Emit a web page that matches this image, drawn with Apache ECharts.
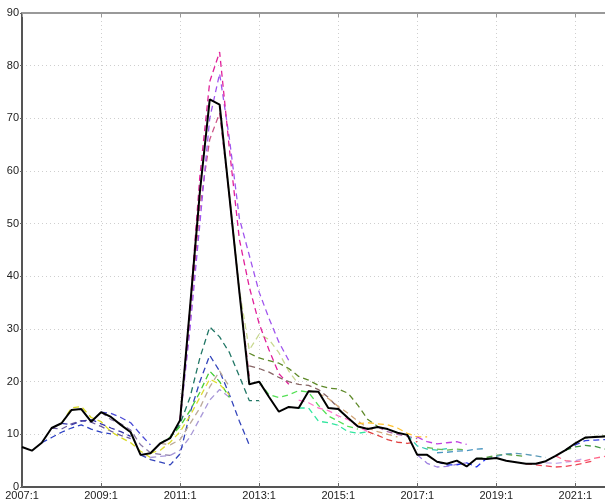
<!DOCTYPE html>
<html>
<head>
<meta charset="utf-8">
<script src="https://cdn.jsdelivr.net/npm/echarts@6/dist/echarts.min.js"></script>
<style>html,body{margin:0;padding:0;background:#fff}#c{width:605px;height:501px}</style>
</head>
<body>
<div id="c"></div>
<script>
// Quarterly categories 2007:1 .. 2021:4
const years = [2007,2008,2009,2010,2011,2012,2013,2014,2015,2016,2017,2018,2019,2020,2021];
const quarters = [];
years.forEach(y => { for (let q = 1; q <= 4; q++) quarters.push(y + ':' + q); });

const yTicks = [0,10,20,30,40,50,60,70,80,90];

// Actual (solid black)
const actual = [7.6, 6.9, 8.4, 11.2, 12.1, 14.6, 14.8, 12.4, 14.2, 13.3,
                11.8, 10.4, 6.1, 6.4, 8.3, 9.3, 12.7, 34, 56, 73.6,
                72.6, 55, 37, 19.5, 20, 17.1, 14.3, 15.2, 15, 18.2,
                18.1, 15, 14.8, 13.1, 11.5, 11, 11.4, 11, 10.3, 9.9,
                6.1, 6.1, 4.8, 4.4, 5, 3.9, 5.4, 5.3, 5.5, 5,
                4.7, 4.4, 4.4, 4.9, 5.9, 7, 8.3, 9.4, 9.5, 9.6];

// Forecast vintages (dashed): values from their start quarter index
const fcA = [8.4, 9.4, 10.4, 11.2, 11.8, 11.0, 10.4, 10.1];            // start 2
const fcB = [11.2, 11.0, 12.0, 12.6, 12.3, 11.5, 10.6, 9.8, 9.2];      // start 3
const fcC = [12.1, 11.8, 12.5, 12.8, 12.0, 11.2, 10.5, 9.6];           // start 4
const fcD = [12.1, 15.0, 15.3, 13.2, 12.4, 10.5, 9.4, 8.4, 6.8, 5.6];  // start 4
const fcE = [14.2, 14.0, 13.2, 12.2, 10.0, 8.0];                       // start 8
const fcF = [14.2, 12.8, 12.0, 10.8, 8.0, 6.5, 6.2, 6.0];              // start 8
const fcG = [6.1, 5.6, 5.8, 6.0, 7.0, 9.5, 13, 16.5, 18.5, 17];        // start 12
const fcH = [6.1, 5.2, 4.7, 4.2, 6.3, 14, 20, 25, 22, 17.5, 12.5, 8];  // start 12
const fcI = [9.3, 12, 17, 24.5, 30.4, 28.5, 25.5, 21, 16.4, 16.4];     // start 15
const fcJ = [8.3, 9.5, 11.5, 14.5, 18, 22, 20, 17];                    // start 14
const fcK = [6.4, 7, 8.5, 10.5, 13.5, 17, 20.5, 19.5, 17.5];           // start 13
const fcL = [8.3, 8.0, 9.0, 12, 15, 19, 22, 19];                       // start 14
const fcM = [12.7, 34, 59, 77, 82.6, 64, 47, 38, 31, 26, 21.5, 19.5];  // start 16 magenta
const fcN = [12.7, 30, 50, 70, 78.5, 66, 51, 44, 37, 32, 27.5, 24];    // start 16 violet
const fcO = [12.7, 32, 53, 66, 71, 55, 37, 21];                        // start 16
const fcP = [72.6, 55.5, 37.5, 26, 29, 28, 25.5, 22, 19.5];            // start 20
const fcQ = [25.4, 24.5, 24, 23.5, 22.5, 21, 20.3, 19.3, 18.8, 18.6, 17.8, 15.5, 12.8, 11.5]; // start 23
const fcR = [23, 22.5, 21.8, 20.8, 20, 19.5, 19.3, 18.5, 17, 15, 13];  // start 23
const fcS = [20, 17.5, 17, 17.5, 18.3, 18, 15.5, 13.5, 12.5, 11.5, 11]; // start 24
const fcT = [15, 15, 12.5, 12.2, 11.7, 10.5, 10.2, 10.5];              // start 28
const fcU = [16.5, 16, 15, 14.5, 13.5, 12.8, 11.5, 10.5];              // start 28
const fcV = [18.3, 17.8, 16.8, 15.3, 14, 12.5, 11.2, 10.5, 10, 9.5];   // start 29
const fcW = [12, 12.2, 12, 11.8, 11.2, 10.2, 9.5, 9.5];                // start 34
const fcX = [10.5, 9.8, 9.0, 8.5, 8.3, 8.6];                           // start 35
const fcY = [11.4, 10.5, 10, 9.6, 9.2];                                // start 36
const fcZ = [9.5, 8.6, 8.2, 8.4, 8.6, 8.1];                            // start 40
const fc27 = [9.9, 7.8, 7.2, 7.0, 7.3];                                // start 39
const fc28 = [7.5, 7.2, 7.0, 7.2, 7.0];                                // start 41
const fc29 = [6.5, 6.6, 6.8, 6.9, 7.2, 7.3];                           // start 42
const fc30 = [6.1, 4.5, 3.8, 3.9, 4.3, 4.6];                           // start 40
const fc31 = [4.8, 4.2, 4.2, 4.6, 3.8, 5.4];                           // start 42
const fc32 = [5.4, 5.6, 6.0, 6.2, 6.0, 5.8];                           // start 46
const fc33 = [5.3, 5.8, 6.3, 6.4, 6.2, 5.9, 5.6];                      // start 47
const fc34 = [4.4, 4.2, 4.0, 3.8, 3.9, 4.2, 4.6, 5.0];                 // start 51
const fc35 = [4.4, 4.6, 4.5, 4.7, 5.0, 5.5];                           // start 52
const fc36 = [5.9, 5.0, 4.8, 5.0, 5.5, 5.8];                           // start 54
const fc37 = [7.0, 8.0, 8.8, 8.9, 9.0];                                // start 55
const fc38 = [7, 7.6, 7.9, 7.7, 7.2];                                  // start 55
const fc39 = [7, 8.3, 9.3, 9.6, 9.7];                                  // start 55

const fcList = [
  [fcA, 2, '#2a3fc4'], [fcB, 3, '#6a5a9e'], [fcC, 4, '#3535a8'], [fcD, 4, '#d8d820'],
  [fcE, 8, '#4a4ad6'], [fcF, 8, '#8a7aa8'], [fcG, 12, '#a898d8'], [fcH, 12, '#3344bb'],
  [fcI, 15, '#227766'], [fcJ, 14, '#44cc33'], [fcK, 13, '#dddd33'], [fcL, 14, '#bbaa99'],
  [fcO, 16, '#cc5588'], [fcP, 20, '#c8d890'], [fcN, 16, '#a055ee'], [fcM, 16, '#e0209a'],
  [fcQ, 23, '#5f8a2a'], [fcR, 23, '#886666'], [fcS, 24, '#55e055'], [fcT, 28, '#33e6a0'],
  [fcU, 28, '#ff77cc'], [fcV, 29, '#d2a679'], [fcW, 34, '#ffc22e'], [fcX, 35, '#e04040'],
  [fcY, 36, '#aa66aa'], [fcZ, 40, '#c040e0'], [fc27, 39, '#30c8b0'], [fc28, 41, '#66bb55'],
  [fc29, 42, '#4a96c0'], [fc30, 40, '#9c7fe0'], [fc31, 42, '#2233ee'], [fc32, 46, '#55a040'],
  [fc33, 47, '#5a9ab8'], [fc34, 51, '#ee4455'], [fc35, 52, '#c0a8ea'], [fc36, 54, '#ff6688'],
  [fc37, 55, '#3340dd'], [fc38, 55, '#449944'], [fc39, 55, '#557733']
];

function padded(vals, start) {
  const out = quarters.map(() => null);
  vals.forEach((v, k) => { if (start + k < out.length) out[start + k] = v; });
  return out;
}

const series = fcList.map(([vals, start, color]) => ({
  type: 'line', xAxisIndex: 0, data: padded(vals, start), showSymbol: false, silent: true,
  lineStyle: { color: color, width: 1.3, type: [6, 4] }, z: 2, animation: false
}));
series.push({
  type: 'line', xAxisIndex: 0, data: actual, showSymbol: false, silent: true,
  lineStyle: { color: '#000', width: 2 }, z: 5, animation: false
});

const chart = echarts.init(document.getElementById('c'), null, { renderer: 'canvas' });
chart.setOption({
  animation: false,
  backgroundColor: '#fff',
  grid: { left: 22, top: 13, width: 584, height: 474, containLabel: false },
  xAxis: [{
    type: 'category', data: quarters, boundaryGap: false, position: 'bottom',
    axisLine: { show: true, lineStyle: { color: '#555', width: 2 } },
    axisTick: { show: true, inside: true, interval: 7, length: 4, lineStyle: { color: '#666' } },
    axisLabel: { interval: 7, color: '#222', fontSize: 11, fontFamily: 'Liberation Sans, Arial, sans-serif', margin: 3 },
    splitLine: { show: true, interval: 7, lineStyle: { color: '#cfcfcf', type: [1, 3], width: 1 } }
  }, {
    type: 'category', data: quarters, boundaryGap: false, position: 'top',
    axisLine: { show: true, lineStyle: { color: '#999', width: 2 } },
    axisTick: { show: true, inside: true, interval: 7, length: 4, lineStyle: { color: '#999' } },
    axisLabel: { show: false }, splitLine: { show: false }
  }],
  yAxis: {
    type: 'value', min: yTicks[0], max: yTicks[yTicks.length - 1], interval: 10,
    axisLine: { show: true, lineStyle: { color: '#555', width: 2 } },
    axisTick: { show: true, inside: false, length: 2, lineStyle: { color: '#666' } },
    axisLabel: { color: '#222', fontSize: 11, fontFamily: 'Liberation Sans, Arial, sans-serif', margin: 3 },
    splitLine: { show: true, lineStyle: { color: '#cfcfcf', type: [1, 3], width: 1 } }
  },
  series: series
});
</script>
</body>
</html>
